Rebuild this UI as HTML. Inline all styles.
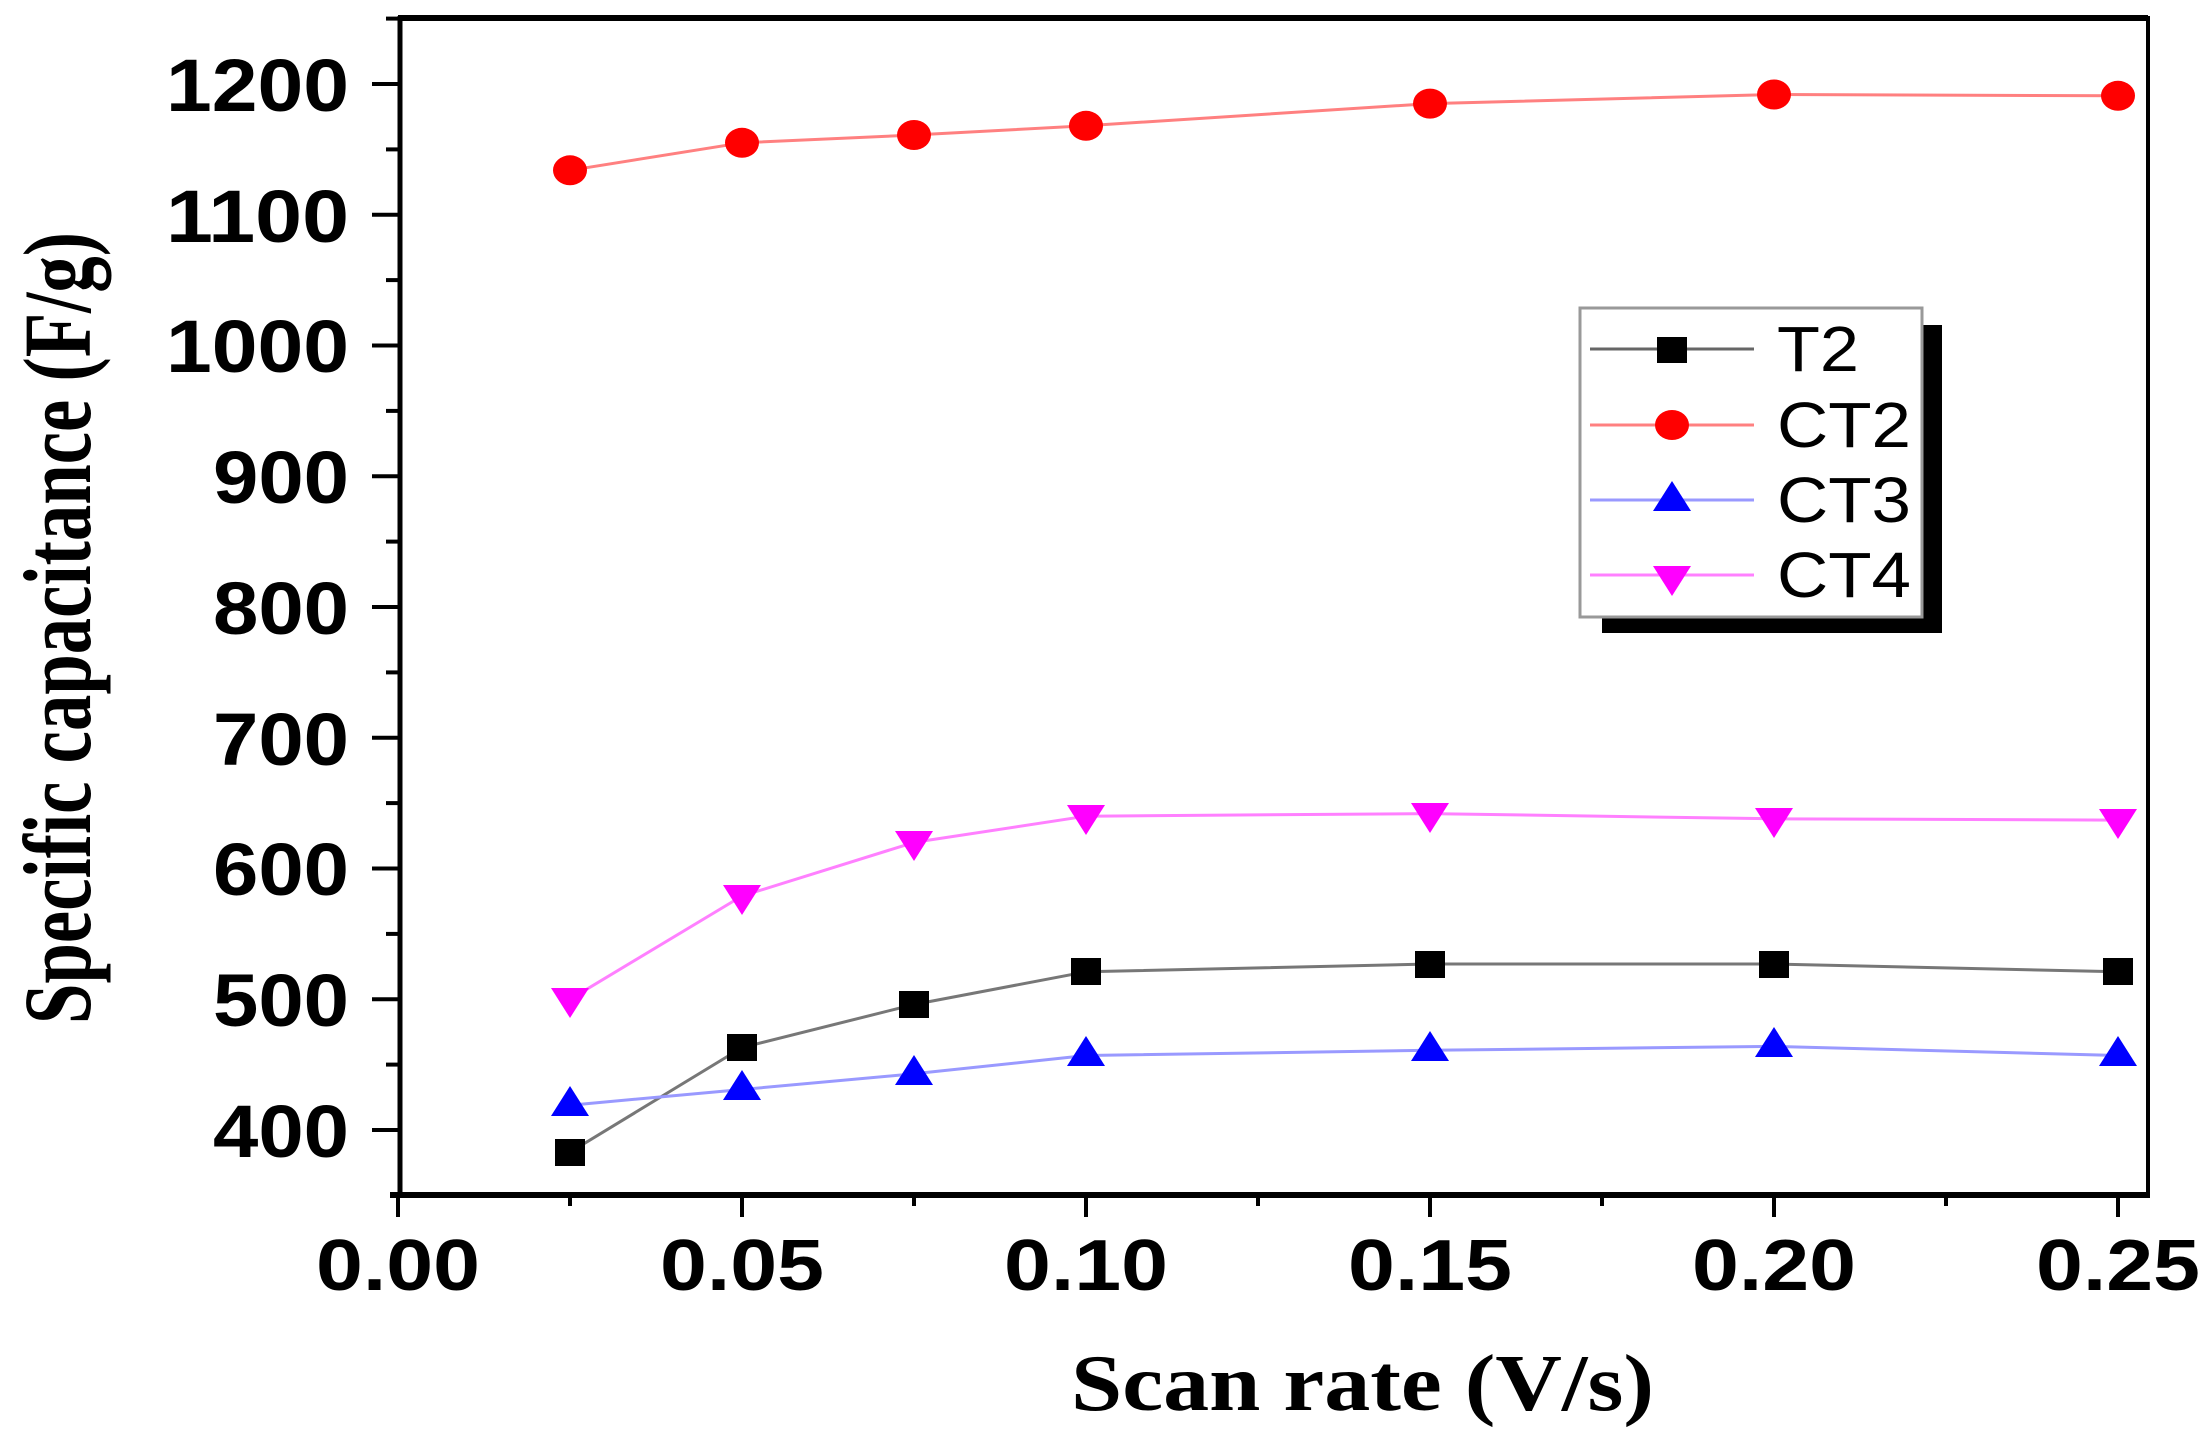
<!DOCTYPE html>
<html><head><meta charset="utf-8"><style>html,body{margin:0;padding:0;background:#fff}svg{display:block}</style></head>
<body>
<svg width="2208" height="1446" viewBox="0 0 2208 1446" xmlns="http://www.w3.org/2000/svg">
<rect width="2208" height="1446" fill="#fff"/>
<g stroke="#000" fill="none">
<line x1="398" y1="18" x2="2148" y2="18" stroke-width="6"/>
<line x1="2148" y1="16" x2="2148" y2="1197" stroke-width="4"/>
<line x1="400" y1="16" x2="400" y2="1197" stroke-width="5"/>
<line x1="390" y1="1195" x2="2150" y2="1195" stroke-width="6"/>
</g>
<g stroke="#000" stroke-width="4">
<line x1="372" y1="1130" x2="400" y2="1130"/>
<line x1="386" y1="1064.6" x2="400" y2="1064.6"/>
<line x1="372" y1="999.2" x2="400" y2="999.2"/>
<line x1="386" y1="933.9" x2="400" y2="933.9"/>
<line x1="372" y1="868.5" x2="400" y2="868.5"/>
<line x1="386" y1="803.1" x2="400" y2="803.1"/>
<line x1="372" y1="737.8" x2="400" y2="737.8"/>
<line x1="386" y1="672.4" x2="400" y2="672.4"/>
<line x1="372" y1="607" x2="400" y2="607"/>
<line x1="386" y1="541.6" x2="400" y2="541.6"/>
<line x1="372" y1="476.3" x2="400" y2="476.3"/>
<line x1="386" y1="410.9" x2="400" y2="410.9"/>
<line x1="372" y1="345.5" x2="400" y2="345.5"/>
<line x1="386" y1="280.1" x2="400" y2="280.1"/>
<line x1="372" y1="214.8" x2="400" y2="214.8"/>
<line x1="386" y1="149.4" x2="400" y2="149.4"/>
<line x1="372" y1="84" x2="400" y2="84"/>
<line x1="386" y1="18.6" x2="400" y2="18.6"/>
<line x1="398" y1="1195" x2="398" y2="1217"/>
<line x1="570" y1="1195" x2="570" y2="1206"/>
<line x1="742" y1="1195" x2="742" y2="1217"/>
<line x1="914" y1="1195" x2="914" y2="1206"/>
<line x1="1086" y1="1195" x2="1086" y2="1217"/>
<line x1="1258" y1="1195" x2="1258" y2="1206"/>
<line x1="1430" y1="1195" x2="1430" y2="1217"/>
<line x1="1602" y1="1195" x2="1602" y2="1206"/>
<line x1="1774" y1="1195" x2="1774" y2="1217"/>
<line x1="1946" y1="1195" x2="1946" y2="1206"/>
<line x1="2118" y1="1195" x2="2118" y2="1217"/>
</g>
<g font-family="Liberation Sans, sans-serif" font-weight="bold" font-size="74" fill="#000" text-anchor="end">
<text x="349" y="1157" textLength="136" lengthAdjust="spacingAndGlyphs">400</text>
<text x="349" y="1026" textLength="136" lengthAdjust="spacingAndGlyphs">500</text>
<text x="349" y="895" textLength="136" lengthAdjust="spacingAndGlyphs">600</text>
<text x="349" y="765" textLength="136" lengthAdjust="spacingAndGlyphs">700</text>
<text x="349" y="634" textLength="136" lengthAdjust="spacingAndGlyphs">800</text>
<text x="349" y="503" textLength="136" lengthAdjust="spacingAndGlyphs">900</text>
<text x="349" y="372" textLength="183" lengthAdjust="spacingAndGlyphs">1000</text>
<text x="349" y="242" textLength="183" lengthAdjust="spacingAndGlyphs">1100</text>
<text x="349" y="111" textLength="183" lengthAdjust="spacingAndGlyphs">1200</text>
</g>
<g font-family="Liberation Sans, sans-serif" font-weight="bold" font-size="72" fill="#000">
<text x="316" y="1290" textLength="164" lengthAdjust="spacingAndGlyphs">0.00</text>
<text x="660" y="1290" textLength="164" lengthAdjust="spacingAndGlyphs">0.05</text>
<text x="1004" y="1290" textLength="164" lengthAdjust="spacingAndGlyphs">0.10</text>
<text x="1348" y="1290" textLength="164" lengthAdjust="spacingAndGlyphs">0.15</text>
<text x="1692" y="1290" textLength="164" lengthAdjust="spacingAndGlyphs">0.20</text>
<text x="2036" y="1290" textLength="164" lengthAdjust="spacingAndGlyphs">0.25</text>
</g>
<g fill="none" stroke-width="3" stroke-linejoin="round">
<polyline stroke="#ff8080" points="570,170.3 742,142.8 914,135 1086,125.8 1430,103.6 1774,94.5 2118,95.8"/>
<polyline stroke="#ff80ff" points="570,999.3 742,896 914,842.4 1086,816.2 1430,813.6 1774,818.8 2118,820.1"/>
<polyline stroke="#777" points="570,1152.2 742,1047.6 914,1004.5 1086,971.8 1430,964 1774,964 2118,971.8"/>
<polyline stroke="#9999ff" points="570,1105.2 742,1089.5 914,1073.8 1086,1055.5 1430,1050.3 1774,1046.4 2118,1055.5"/>
</g>
<g fill="#f00">
<ellipse cx="570" cy="170.3" rx="17" ry="15"/><ellipse cx="742" cy="142.8" rx="17" ry="15"/><ellipse cx="914" cy="135" rx="17" ry="15"/><ellipse cx="1086" cy="125.8" rx="17" ry="15"/><ellipse cx="1430" cy="103.6" rx="17" ry="15"/><ellipse cx="1774" cy="94.5" rx="17" ry="15"/><ellipse cx="2118" cy="95.8" rx="17" ry="15"/>
</g>
<g fill="#f0f">
<polygon points="551,988 589,988 570,1018"/><polygon points="723,885 761,885 742,915"/><polygon points="895,831 933,831 914,861"/><polygon points="1067,805 1105,805 1086,835"/><polygon points="1411,803 1449,803 1430,833"/><polygon points="1755,808 1793,808 1774,838"/><polygon points="2099,809 2137,809 2118,839"/>
</g>
<g fill="#000">
<rect x="555" y="1139" width="30" height="27"/><rect x="727" y="1034" width="30" height="27"/><rect x="899" y="991" width="30" height="27"/><rect x="1071" y="958" width="30" height="27"/><rect x="1415" y="951" width="30" height="27"/><rect x="1759" y="951" width="30" height="27"/><rect x="2103" y="958" width="30" height="27"/>
</g>
<g fill="#00f">
<polygon points="551,1116 589,1116 570,1086"/><polygon points="723,1100 761,1100 742,1070"/><polygon points="895,1085 933,1085 914,1055"/><polygon points="1067,1066 1105,1066 1086,1036"/><polygon points="1411,1061 1449,1061 1430,1031"/><polygon points="1755,1057 1793,1057 1774,1027"/><polygon points="2099,1066 2137,1066 2118,1036"/>
</g>
<rect x="1602" y="325" width="340" height="308" fill="#000"/>
<rect x="1580" y="308" width="342" height="309" fill="#fff" stroke="#999" stroke-width="3"/>
<g stroke-width="3">
<line x1="1590" y1="349" x2="1754" y2="349" stroke="#666"/>
<line x1="1590" y1="425" x2="1754" y2="425" stroke="#ff8080"/>
<line x1="1590" y1="500" x2="1754" y2="500" stroke="#9999ff"/>
<line x1="1590" y1="575" x2="1754" y2="575" stroke="#ff80ff"/>
</g>
<rect x="1657" y="337" width="30" height="26" fill="#000"/>
<ellipse cx="1672" cy="425" rx="17" ry="15" fill="#f00"/>
<polygon points="1653,511 1691,511 1672,481" fill="#00f"/>
<polygon points="1653,566 1691,566 1672,596" fill="#f0f"/>
<g font-family="Liberation Sans, sans-serif" font-size="64" fill="#000">
<text x="1777" y="371" textLength="82" lengthAdjust="spacingAndGlyphs">T2</text>
<text x="1777" y="447" textLength="134" lengthAdjust="spacingAndGlyphs">CT2</text>
<text x="1777" y="522" textLength="134" lengthAdjust="spacingAndGlyphs">CT3</text>
<text x="1777" y="597" textLength="134" lengthAdjust="spacingAndGlyphs">CT4</text>
</g>
<text x="1071" y="1410" font-family="Liberation Serif, serif" font-weight="bold" font-size="80" textLength="583" lengthAdjust="spacingAndGlyphs">Scan rate (V/s)</text>
<text transform="translate(90,1024) rotate(-90)" x="0" y="0" font-family="Liberation Serif, serif" font-weight="bold" font-size="96" textLength="792" lengthAdjust="spacingAndGlyphs">Specific capacitance (F/g)</text>
</svg>
</body></html>
